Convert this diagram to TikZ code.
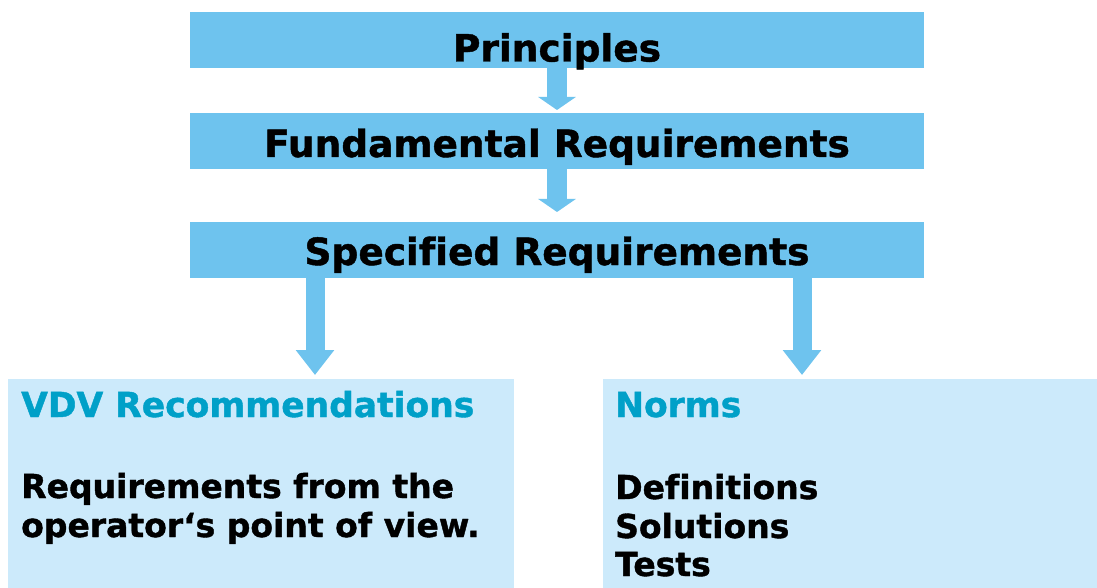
\documentclass[tikz,border=0pt]{standalone}
\usepackage{fontspec}
\setmainfont{DejaVu Sans}[Ligatures=NoCommon, BoldFeatures={FakeBold=1.2}]
\usetikzlibrary{arrows.meta}
\definecolor{topblue}{HTML}{6EC3EE}
\definecolor{lowblue}{HTML}{CCEAFB}
\definecolor{headblue}{HTML}{00A0C8}
\tikzset{
  topbox/.style={fill=topblue, draw=none, inner sep=0pt, minimum width=734pt, minimum height=56pt,
    font=\fontsize{37.5}{44}\selectfont\bfseries, text=black},
  lowbox/.style={fill=lowblue, draw=none, inner sep=0pt, minimum height=209pt},
  headtext/.style={inner sep=0pt, anchor=base west, text=headblue, font=\fontsize{34.5}{40}\selectfont\bfseries},
  bodytext/.style={inner sep=0pt, anchor=base west, text=black, font=\fontsize{33}{38}\selectfont\bfseries},
  smallarrow/.style={draw=topblue, line width=20pt, -{Triangle[width=37pt,length=13pt]}},
  bigarrow/.style={draw=topblue, line width=19pt, -{Triangle[width=37pt,length=25pt]}}
}
\begin{document}
\begin{tikzpicture}[x=1pt,y=-1pt]
\useasboundingbox (0,0) rectangle (1097,588);
\fill[white] (0,0) rectangle (1097,588);
% top boxes
\node[topbox, text height=43pt, text depth=0pt] (prin) at (557,40) {Principles};
\node[topbox, text height=36pt, text depth=4pt] (fund) at (557,141) {Fundamental Requirements};
\node[topbox, text height=35pt, text depth=5pt] (spec) at (557,250) {Specified Requirements};
% lower boxes
\node[lowbox, minimum width=506pt] (vdv) at (261,483.5) {};
\node[lowbox, minimum width=494pt] (norms) at (850,483.5) {};
% arrow tips
\coordinate (t1) at (557,110);
\coordinate (t2) at (557,212);
\coordinate (t3) at (315,375);
\coordinate (t4) at (802,375);
\draw[smallarrow] (prin.south) -- (t1);
\draw[smallarrow] (fund.south) -- (t2);
\draw[bigarrow] (spec.south -| t3) -- (t3);
\draw[bigarrow] (spec.south -| t4) -- (t4);
% texts
\node[headtext] (vdvh) at (21,417) {VDV Recommendations};
\node[bodytext] (vdv1) at (21,498) {Requirements from the};
\node[bodytext] (vdv2) at (21,537) {operator‘s point of view.};
\node[headtext] (normh) at (615,417) {Norms};
\node[bodytext] (norm1) at (615,499) {Definitions};
\node[bodytext] (norm2) at (615,538) {Solutions};
\node[bodytext] (norm3) at (615,576) {Tests};
\end{tikzpicture}
\end{document}
